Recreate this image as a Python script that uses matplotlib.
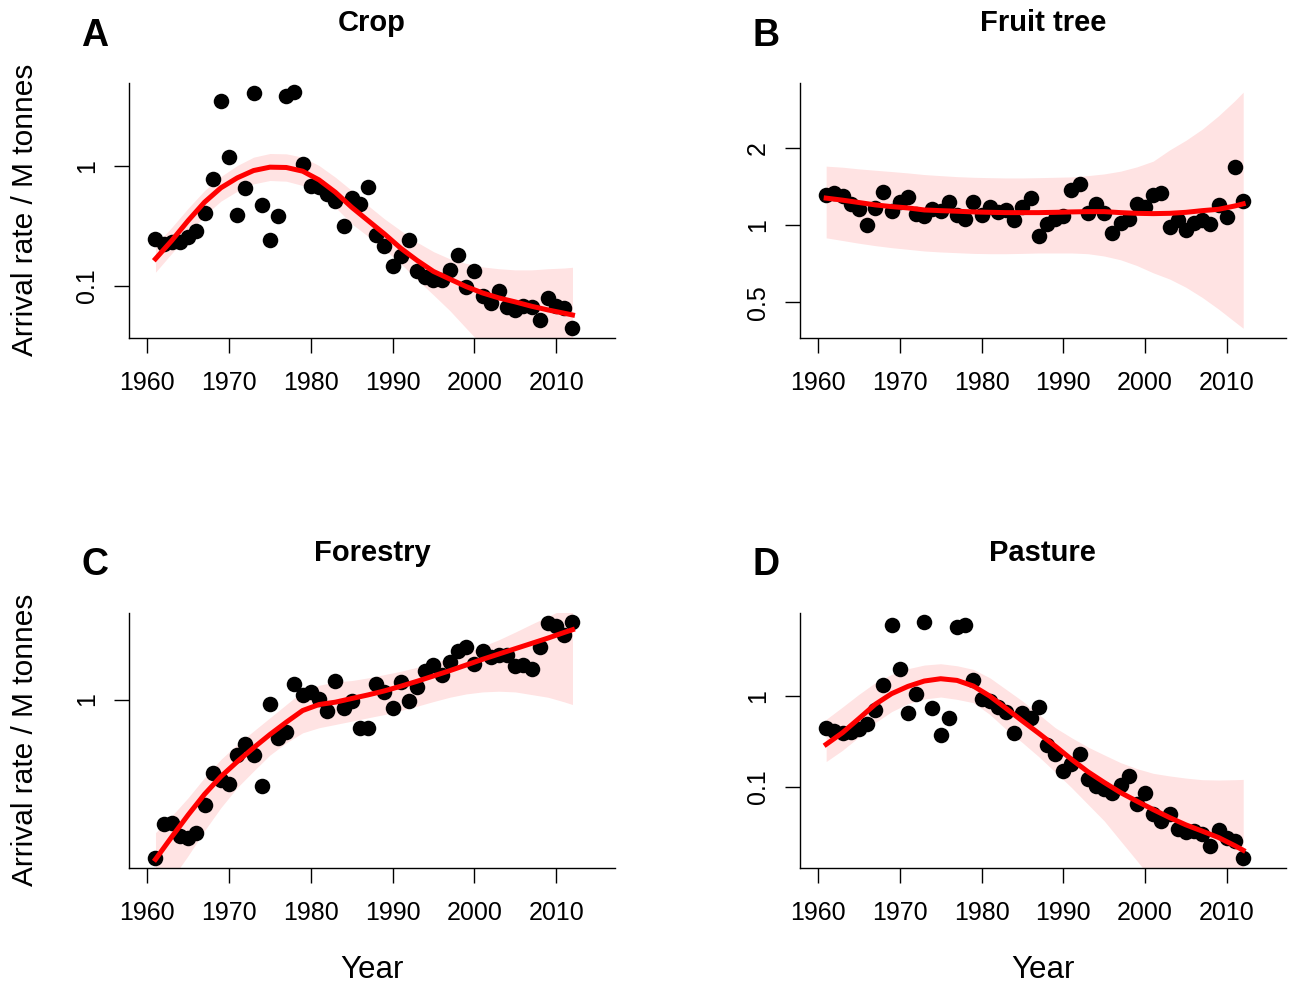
import matplotlib
matplotlib.use("Agg")
import matplotlib.pyplot as plt
import matplotlib.ticker as mticker
import numpy as np

plt.rcParams['font.family'] = ['Liberation Sans', 'DejaVu Sans']

years = list(range(1961, 2013))
fit_years = [1961, 1963, 1965, 1967, 1969, 1971, 1973, 1975, 1977, 1979,
             1981, 1983, 1985, 1987, 1989, 1991, 1993, 1995, 1997, 1999,
             2001, 2003, 2005, 2007, 2009, 2011, 2012]

# observed arrival rates per panel
crop = [0.246, 0.224, 0.231, 0.234, 0.254, 0.289, 0.408, 0.78, 3.5, 1.196,
        0.393, 0.656, 4.06, 0.473, 0.243, 0.381, 3.8, 4.11, 1.03, 0.673,
        0.664, 0.585, 0.514, 0.318, 0.541, 0.482, 0.664, 0.263, 0.217, 0.146,
        0.176, 0.239, 0.134, 0.118, 0.112, 0.111, 0.137, 0.181, 0.0975, 0.132,
        0.083, 0.0717, 0.0914, 0.0664, 0.063, 0.0686, 0.0673, 0.0524, 0.0794, 0.0686,
        0.0656, 0.0444]
fruit = [1.31, 1.33, 1.30, 1.21, 1.16, 1.0, 1.17, 1.34, 1.135, 1.235,
         1.29, 1.10, 1.08, 1.15, 1.13, 1.235, 1.094, 1.06, 1.23, 1.094,
         1.18, 1.12, 1.145, 1.05, 1.18, 1.28, 0.908, 1.01, 1.06, 1.08,
         1.37, 1.44, 1.11, 1.21, 1.11, 0.933, 1.015, 1.06, 1.21, 1.18,
         1.31, 1.33, 0.979, 1.05, 0.956, 1.015, 1.046, 1.01, 1.2, 1.072,
         1.68, 1.246]
forestry = [0.160, 0.237, 0.240, 0.207, 0.202, 0.213, 0.295, 0.428, 0.394, 0.379,
            0.525, 0.600, 0.527, 0.369, 0.951, 0.643, 0.684, 1.19, 1.05, 1.09,
            1.01, 0.875, 1.235, 0.908, 0.981, 0.716, 0.721, 1.197, 1.09, 0.902,
            1.225, 0.981, 1.153, 1.386, 1.485, 1.334, 1.543, 1.745, 1.827, 1.508,
            1.758, 1.628, 1.679, 1.679, 1.468, 1.485, 1.424, 1.827, 2.417, 2.326,
            2.113, 2.444]
pasture = [0.449, 0.412, 0.395, 0.406, 0.434, 0.497, 0.708, 1.32, 6.03, 2.0,
           0.645, 1.06, 6.5, 0.744, 0.373, 0.568, 5.73, 6.03, 1.5, 0.919,
           0.881, 0.757, 0.673, 0.395, 0.656, 0.578, 0.763, 0.290, 0.229, 0.150,
           0.177, 0.229, 0.121, 0.103, 0.0943, 0.0867, 0.105, 0.132, 0.0656, 0.0867,
           0.0501, 0.0423, 0.0501, 0.0343, 0.0315, 0.0328, 0.0302, 0.0221, 0.0334, 0.0277,
           0.0255, 0.0164]

# fitted trend with lower / upper band
crop_fit = [0.168, 0.239, 0.350, 0.498, 0.656, 0.794, 0.914, 0.975, 0.969, 0.903,
            0.764, 0.603, 0.452, 0.350, 0.271, 0.206, 0.163, 0.132, 0.114, 0.0987,
            0.0874, 0.0794, 0.0736, 0.0677, 0.0631, 0.0592, 0.0573]
crop_hi = [0.217, 0.308, 0.444, 0.623, 0.815, 1.006, 1.181, 1.267, 1.259, 1.181,
           1.006, 0.804, 0.623, 0.467, 0.362, 0.289, 0.231, 0.193, 0.168, 0.154,
           0.144, 0.139, 0.136, 0.136, 0.139, 0.141, 0.143]
crop_lo = [0.130, 0.187, 0.268, 0.386, 0.508, 0.615, 0.708, 0.755, 0.745, 0.686,
           0.584, 0.452, 0.329, 0.259, 0.201, 0.153, 0.113, 0.0841, 0.0623, 0.0444,
           0.0318, 0.0239, 0.0191, 0.0157, 0.0134, 0.0118, 0.0111]

fruit_fit = [1.273, 1.250, 1.224, 1.198, 1.180, 1.166, 1.145, 1.138, 1.132, 1.125,
             1.121, 1.118, 1.118, 1.118, 1.121, 1.125, 1.128, 1.128, 1.118, 1.111,
             1.108, 1.111, 1.121, 1.138, 1.152, 1.187, 1.209]
fruit_hi = [1.695, 1.679, 1.654, 1.634, 1.615, 1.595, 1.572, 1.557, 1.543, 1.534,
            1.529, 1.525, 1.525, 1.529, 1.534, 1.539, 1.557, 1.581, 1.620, 1.684,
            1.773, 1.959, 2.137, 2.361, 2.663, 3.050, 3.288]
fruit_lo = [0.892, 0.871, 0.850, 0.832, 0.817, 0.805, 0.793, 0.786, 0.781, 0.776,
            0.774, 0.774, 0.776, 0.779, 0.779, 0.779, 0.774, 0.758, 0.733, 0.696,
            0.652, 0.617, 0.573, 0.523, 0.471, 0.420, 0.397]

forestry_fit = [0.158, 0.205, 0.264, 0.335, 0.411, 0.488, 0.573, 0.668, 0.770, 0.881,
                0.944, 0.970, 1.012, 1.055, 1.105, 1.166, 1.235, 1.313, 1.396, 1.490,
                1.591, 1.692, 1.799, 1.912, 2.033, 2.171, 2.239]
forestry_hi = [0.215, 0.261, 0.322, 0.406, 0.501, 0.596, 0.695, 0.810, 0.944, 1.101,
               1.179, 1.226, 1.245, 1.284, 1.334, 1.386, 1.451, 1.525, 1.616, 1.718,
               1.848, 1.995, 2.179, 2.389, 2.610, 2.851, 2.985]
forestry_lo = [0.098, 0.126, 0.165, 0.220, 0.287, 0.362, 0.438, 0.527, 0.607, 0.681,
               0.722, 0.750, 0.779, 0.810, 0.841, 0.881, 0.926, 0.977, 1.027, 1.067,
               1.092, 1.101, 1.092, 1.059, 1.027, 0.973, 0.944]

pasture_fit = [0.294, 0.395, 0.564, 0.810, 1.061, 1.277, 1.462, 1.550, 1.486, 1.288,
               1.0, 0.732, 0.531, 0.389, 0.282, 0.201, 0.147, 0.112, 0.0866, 0.0696,
               0.0563, 0.0460, 0.0382, 0.0326, 0.0277, 0.0225, 0.0201]
pasture_hi = [0.554, 0.757, 1.043, 1.401, 1.730, 1.997, 2.192, 2.266, 2.154, 1.963,
              1.590, 1.184, 0.881, 0.629, 0.449, 0.348, 0.275, 0.225, 0.185, 0.159,
              0.141, 0.132, 0.125, 0.120, 0.119, 0.120, 0.121]
pasture_lo = [0.190, 0.253, 0.354, 0.509, 0.673, 0.824, 0.927, 0.975, 0.919, 0.845,
              0.629, 0.430, 0.307, 0.215, 0.146, 0.0984, 0.0645, 0.0423, 0.0255, 0.0154,
              0.00927, 0.00559, 0.00367, 0.00251, 0.00187, 0.00139, 0.00122]


def log_range(vals):
    lo, hi = np.log10(np.min(vals)), np.log10(np.max(vals))
    pad = 0.04 * (hi - lo)
    return 10 ** (lo - pad), 10 ** (hi + pad)


W, H = 1291, 983
fig = plt.figure(figsize=(W / 100, H / 100), dpi=100)

aw, ah = 485.7 / W, 255 / H
lefts = [129.3 / W, 800 / W]
bottoms = [1 - 337.7 / H, 1 - 867.7 / H]

panels = [
    ("A", "Crop", crop, crop_fit, crop_lo, crop_hi, log_range(crop), [0.1, 1], ["0.1", "1"]),
    ("B", "Fruit tree", fruit, fruit_fit, fruit_lo, fruit_hi, log_range(fruit_lo + fruit_hi),
     [0.5, 1, 2], ["0.5", "1", "2"]),
    ("C", "Forestry", forestry, forestry_fit, forestry_lo, forestry_hi, log_range(forestry), [1], ["1"]),
    ("D", "Pasture", pasture, pasture_fit, pasture_lo, pasture_hi, log_range(pasture), [0.1, 1], ["0.1", "1"]),
]

for i, (letter, title, obs, fit, lo, hi, ylim, yt, ytl) in enumerate(panels):
    col, row = i % 2, i // 2
    ax = fig.add_axes([lefts[col], bottoms[row], aw, ah])
    ax.fill_between(fit_years, lo, hi, color="#ffe3e3", lw=0, zorder=1)
    ax.scatter(years, obs, s=125, color="black", zorder=2, linewidths=0)
    ax.plot(fit_years, fit, color="red", lw=3.6, zorder=3, solid_joinstyle="round")

    ax.set_yscale("log")
    ax.set_ylim(*ylim)
    ax.set_xlim(1957.8, 2017.2)
    ax.yaxis.set_major_locator(mticker.FixedLocator(yt))
    ax.yaxis.set_major_formatter(mticker.FixedFormatter(ytl))
    ax.yaxis.set_minor_locator(mticker.NullLocator())
    ax.set_xticks([1960, 1970, 1980, 1990, 2000, 2010])

    for s in ["top", "right"]:
        ax.spines[s].set_visible(False)
    for s in ["left", "bottom"]:
        ax.spines[s].set_linewidth(1.0)
    ax.tick_params(axis="both", length=10.8, width=1.0, labelsize=18, pad=13)
    ax.tick_params(axis="y", labelrotation=90, pad=11)
    for lab in ax.get_yticklabels():
        lab.set_va("center")

    ax.text(0.5, 1.234, title, transform=ax.transAxes, ha="center", va="center",
            fontsize=21, fontweight="bold")
    fig.text((95 if col == 0 else 766) / W, (1 - 36 / H) if row == 0 else (1 - 565 / H),
             letter, ha="center", va="center", fontsize=27, fontweight="bold")

    if col == 0:
        fig.text(25 / W, bottoms[row] + ah / 2, "Arrival rate / M tonnes", rotation=90,
                 ha="center", va="center", fontsize=21.5)
    if row == 1:
        fig.text(lefts[col] + aw / 2, 1 - 970 / H, "Year", ha="center", va="center", fontsize=22.5)

fig.savefig("out.png", dpi=100)
